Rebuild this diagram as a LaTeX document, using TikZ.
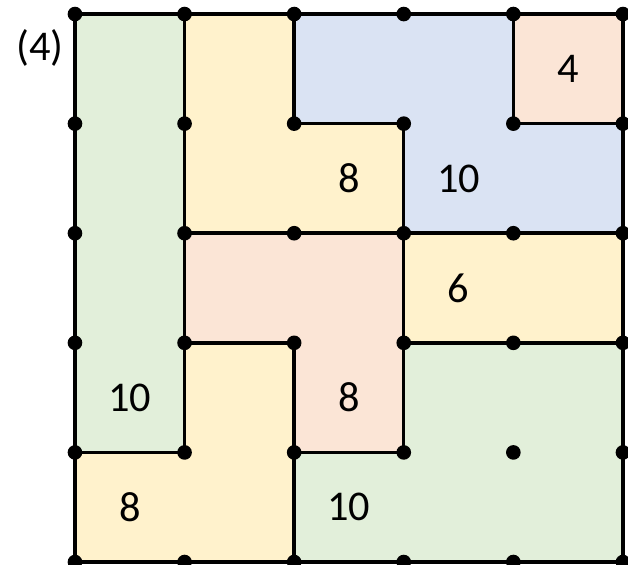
\documentclass[tikz,border=0pt]{standalone}
\usepackage{fontspec}
\setmainfont{Carlito}
\usepackage{tikz}
\usetikzlibrary{positioning, calc}
\usepackage{xcolor}

\definecolor{cgreen}{HTML}{E2EFDA}
\definecolor{cyellow}{HTML}{FFF2CC}
\definecolor{cblue}{HTML}{DAE3F3}
\definecolor{cpeach}{HTML}{FBE5D6}

\begin{document}
\begin{tikzpicture}[
    region/.style={draw=black, line width=0.9pt, line join=round},
    dot/.style={circle, fill=black, inner sep=0pt, minimum size=3.8pt},
    num/.style={font=\fontsize{11}{13}\selectfont}
]
\useasboundingbox (-0.684,-0.027) rectangle (5.046,5.128);

% Regioni
\draw[region, fill=cgreen] (0,1) rectangle (1,5);
\draw[region, fill=cyellow] (0,0) -- (2,0) -- (2,2) -- (1,2) -- (1,1) -- (0,1) -- cycle;
\draw[region, fill=cyellow] (1,3) -- (3,3) -- (3,4) -- (2,4) -- (2,5) -- (1,5) -- cycle;
\draw[region, fill=cblue] (2,5) -- (4,5) -- (4,4) -- (5,4) -- (5,3) -- (3,3) -- (3,4) -- (2,4) -- cycle;
\draw[region, fill=cpeach] (4,4) rectangle (5,5);
\draw[region, fill=cpeach] (1,3) -- (3,3) -- (3,1) -- (2,1) -- (2,2) -- (1,2) -- cycle;
\draw[region, fill=cyellow] (3,2) rectangle (5,3);
\draw[region, fill=cgreen] (2,0) -- (5,0) -- (5,2) -- (3,2) -- (3,1) -- (2,1) -- cycle;

% Punti della griglia
\foreach \i in {0,...,5} {
    \foreach \j in {0,...,5} {
        \node[dot] (p\i\j) at (\i,\j) {};
    }
}

% Perimetri
\node[num] (l1) at (0.5,1.5) {10};
\node[num] (l2) at (0.5,0.5) {8};
\node[num] (l3) at (2.5,3.5) {8};
\node[num] (l4) at (3.5,3.5) {10};
\node[num] (l5) at (4.5,4.5) {4};
\node[num] (l6) at (3.5,2.5) {6};
\node[num] (l7) at (2.5,1.5) {8};
\node[num] (l8) at (2.5,0.5) {10};

\node[num] (title) at (-0.32,4.69) {(4)};

\end{tikzpicture}
\end{document}
